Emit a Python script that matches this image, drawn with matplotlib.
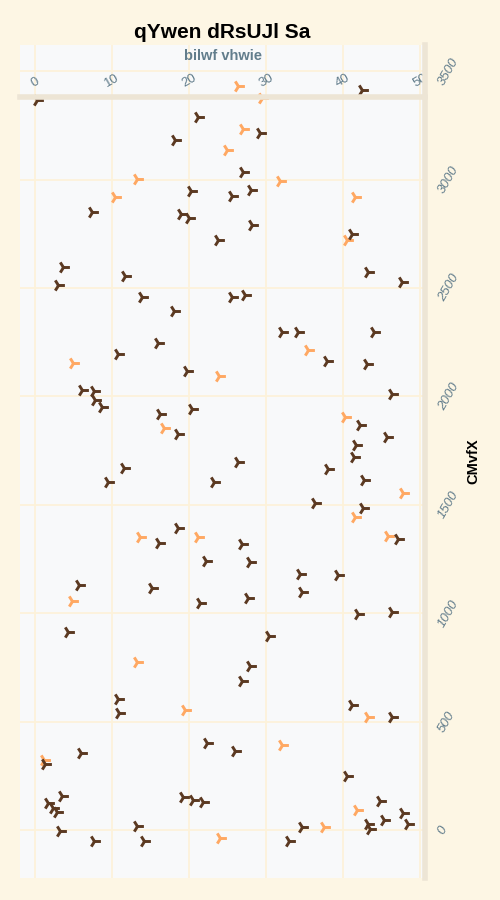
import matplotlib
matplotlib.use('Agg')
import matplotlib.pyplot as plt

# series
dark_x = [0.3, 42.5, 21.2, 29.2, 18.2, 27.0,
          20.2, 25.6, 28.1, 7.4, 19.0, 20.0, 28.2, 23.8, 41.2, 3.6, 11.7, 3.0, 43.2, 47.7, 13.9, 25.6, 27.3, 18.1,
          32.1, 34.2, 44.0, 16.0, 10.8, 37.9, 43.1, 19.7, 6.1, 7.7, 7.8, 8.7, 46.4, 20.4, 16.2, 18.6, 42.2, 45.7, 41.7,
          41.4, 11.6, 9.5, 26.4, 23.2, 38.0, 42.7, 36.4, 42.6, 18.6, 16.1, 26.9, 47.1, 22.2, 27.9, 34.4, 39.4,
          5.7, 15.2, 21.4, 27.7, 34.7, 41.9, 46.4, 4.3, 30.4, 27.9, 26.9, 10.8, 10.9, 41.2, 46.4,
          22.3, 26.0, 6.0, 1.3, 40.5, 3.5, 1.7, 2.3, 2.9, 19.2, 20.5, 21.8, 44.8, 45.3, 47.8, 48.4, 43.2, 43.5,
          3.2, 7.7, 13.2, 14.2, 34.7, 33.0]
dark_y = [3367, 3413, 3289, 3215, 3183, 3035,
          2947, 2924, 2952, 2850, 2841, 2823, 2790, 2721, 2749, 2597, 2555, 2514, 2574, 2528, 2458, 2458, 2468, 2394,
          2297, 2297, 2297, 2246, 2196, 2163, 2149, 2117, 2029, 2025, 1983, 1951, 2011, 1942, 1919, 1827, 1868, 1813, 1776,
          1720, 1670, 1605, 1697, 1605, 1665, 1614, 1508, 1485, 1393, 1324, 1319, 1342, 1241, 1236, 1181, 1176,
          1130, 1116, 1047, 1070, 1098, 996, 1006, 913, 895, 756, 687, 604, 540, 577, 521,
          401, 364, 355, 304, 249, 157, 125, 101, 83, 152, 138, 129, 134, 46, 78, 28, 28, 5,
          -5, -51, 18, -51, 14, -51]

light_x = [26.4, 29.5, 27.0, 24.9, 13.2, 31.8, 10.4, 41.6, 40.5, 4.9, 23.9, 35.5, 16.8, 40.3,
           47.8, 41.6, 13.6, 21.2, 45.8, 4.8, 13.2, 19.5, 43.2, 1.2, 32.1, 41.8, 37.5, 24.0]
light_y = [3432, 3376, 3233, 3137, 3003, 2993, 2920, 2920, 2721, 2154, 2094, 2214, 1854, 1905,
           1554, 1444, 1351, 1351, 1356, 1056, 775, 553, 521, 323, 392, 92, 14, -37]

x_ticks = [0, 10, 20, 30, 40, 50]
y_ticks = [0, 500, 1000, 1500, 2000, 2500, 3000, 3500]

plt.rcParams['font.family'] = ['Liberation Sans Narrow', 'Liberation Sans', 'DejaVu Sans']

fig = plt.figure(figsize=(5, 9), dpi=100, facecolor='#fdf6e4')
ax = fig.add_axes([0.04, 0.0244, 0.81, 0.9256])
ax.set_facecolor('#f8f9fa')

ax.scatter(light_x, light_y, marker='4', s=85, linewidths=2.1, color='#ffa862')
ax.scatter(dark_x, dark_y, marker='4', s=85, linewidths=2.1, color='#5b3921')

ax.set_xlim(-1.95, 50.65)
ax.set_ylim(-221, 3621)
ax.set_xticks(x_ticks)
ax.set_yticks(y_ticks)
ax.grid(True, color='#fdf2da', linewidth=1.3)
ax.set_axisbelow(True)

ax.xaxis.tick_top()
ax.xaxis.set_label_position('top')
ax.yaxis.tick_right()
ax.yaxis.set_label_position('right')
ax.tick_params(axis='both', length=0, colors='#627d8c', labelsize=9.5)
ax.tick_params(axis='x', pad=5, labelrotation=30)
ax.tick_params(axis='y', pad=8, labelrotation=60)
for t in ax.xaxis.get_major_ticks():
    t.label2.set_fontstyle('italic')
    t.label2.set_rotation(30)
for t in ax.yaxis.get_major_ticks():
    t.label2.set_fontstyle('italic')
    t.label2.set_va('center')

for s in ['left', 'bottom']:
    ax.spines[s].set_visible(False)
ax.spines['top'].set_position(('axes', 0.9376))
ax.spines['top'].set_color('#ede5d5')
ax.spines['top'].set_linewidth(4)
ax.spines['right'].set_color('#ede5d5')
ax.spines['right'].set_linewidth(4)

ax.set_xlabel('bilwf vhwie', color='#627d8c', fontsize=10.5, fontweight='bold', labelpad=9)
ax.set_ylabel('CMvfX', fontsize=10.5, fontweight='bold', labelpad=4)
ax.set_title('qYwen dRsUJl Sa', fontsize=15, fontweight='bold', pad=5)

fig.savefig('out.png', dpi=100, facecolor=fig.get_facecolor())
